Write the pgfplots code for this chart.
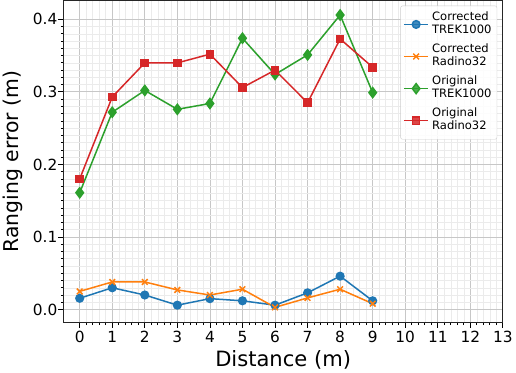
\documentclass[border=0pt]{standalone}
\usepackage{pgfplots}
\pgfplotsset{compat=1.18}
\usepackage{fontspec}
\setmainfont{DejaVu Sans}
\definecolor{tabblue}{HTML}{1F77B4}
\definecolor{taborange}{HTML}{FF7F0E}
\definecolor{tabgreen}{HTML}{2CA02C}
\definecolor{tabred}{HTML}{D62728}
\newcommand{\legtwo}[2]{\fontsize{11.5}{13}\selectfont\begin{tabular}{@{}l@{}}#1\\#2\end{tabular}}
\begin{document}
\begin{tikzpicture}
\begin{axis}[
  width=438pt, height=321pt, scale only axis,
  xmin=-0.5, xmax=13, ymin=-0.018, ymax=0.426,
  xtick={0,1,...,13}, ytick={0,0.1,0.2,0.3,0.4},
  yticklabel style={xshift=2.5pt, /pgf/number format/.cd, fixed, fixed zerofill, precision=1},
  /pgf/number format/assume math mode=true,
  minor x tick num=4, minor y tick num=9,
  grid=both,
  major grid style={black!22, line width=0.8pt},
  minor grid style={black!8, line width=0.5pt},
  xtick pos=bottom, ytick pos=left,
  tick align=outside,
  major tick length=5pt, minor tick length=2.5pt,
  every tick/.style={black, line width=0.8pt},
  axis line style={black!85, line width=1pt},
  tick label style={font=\fontsize{15.3}{17}\selectfont},
  xlabel={Distance (m)}, ylabel={Ranging error (m)},
  xlabel style={font=\fontsize{21}{24}\selectfont, yshift=-1pt},
  ylabel style={font=\fontsize{20.3}{23}\selectfont, yshift=3pt},
  legend style={at={(rel axis cs:0.987,0.984)}, anchor=north east,
    draw=black!20, rounded corners=2pt,
    fill=white, fill opacity=0.85, text opacity=1,
    nodes={text height=, text depth=, inner sep=3pt},
    row sep=0pt, inner sep=2.5pt},
  legend image post style={line width=1.5pt},
  legend image code/.code={\draw[mark repeat=2,mark phase=2,#1] plot coordinates {(0cm,0cm) (0.43cm,0cm) (0.86cm,0cm)};},
  legend cell align=left,
  every axis plot/.append style={line width=1.5pt},
]
\addplot[color=tabblue, mark=*, mark size=3.8pt] coordinates {
(0,0.0155) (1,0.030) (2,0.020) (3,0.006) (4,0.015) (5,0.012) (6,0.006) (7,0.023) (8,0.046) (9,0.012)};
\addlegendentry{\legtwo{Corrected}{TREK1000}}
\addplot[color=taborange, mark=x, mark size=4pt] coordinates {
(0,0.025) (1,0.038) (2,0.038) (3,0.027) (4,0.020) (5,0.028) (6,0.003) (7,0.016) (8,0.028) (9,0.008)};
\addlegendentry{\legtwo{Corrected}{Radino32}}
\addplot[color=tabgreen, mark=diamond*, mark size=5pt] coordinates {
(0,0.161) (1,0.272) (2,0.302) (3,0.276) (4,0.284) (5,0.374) (6,0.324) (7,0.351) (8,0.406) (9,0.299)};
\addlegendentry{\legtwo{Original}{TREK1000}}
\addplot[color=tabred, mark=square*, mark size=3.6pt] coordinates {
(0,0.180) (1,0.293) (2,0.340) (3,0.340) (4,0.352) (5,0.306) (6,0.330) (7,0.285) (8,0.373) (9,0.334)};
\addlegendentry{\legtwo{Original}{Radino32}}
\end{axis}
\end{tikzpicture}
\end{document}
